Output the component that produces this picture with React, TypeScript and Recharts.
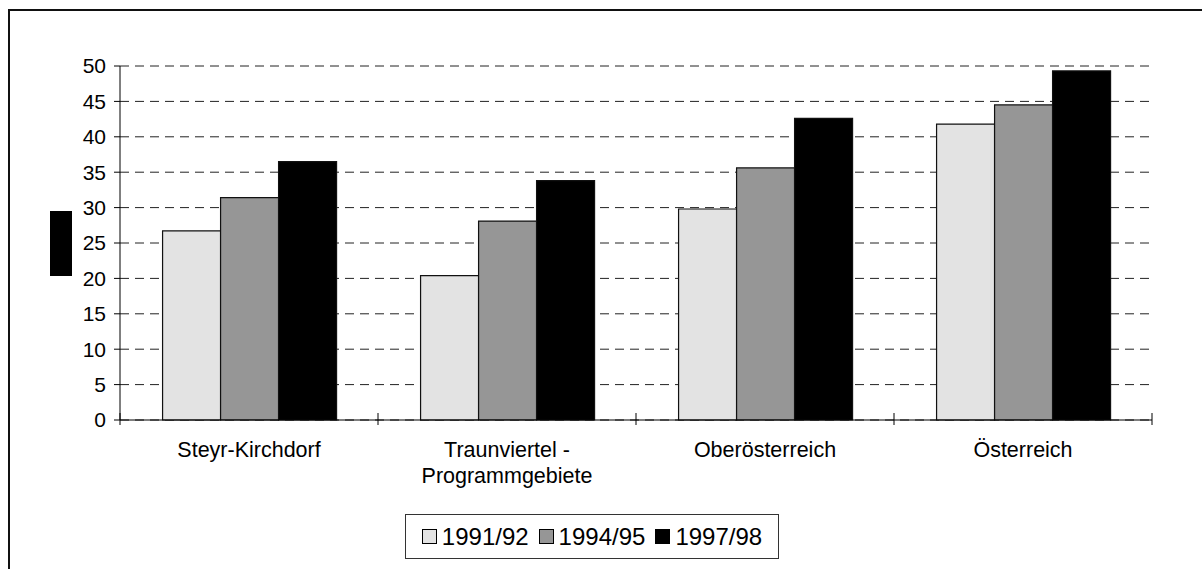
import { BarChart, Bar, XAxis, YAxis, CartesianGrid } from 'recharts'

// Regions and survey periods
const categories = ['Steyr-Kirchdorf', 'Traunviertel -\nProgrammgebiete', 'Oberösterreich', 'Österreich']
const periods = ['1991/92', '1994/95', '1997/98']
const periodColors = ['#e3e3e3', '#969696', '#000000']

// Values per period, one entry per region
const values9192 = [26.7, 20.4, 29.8, 41.8]
const values9495 = [31.4, 28.1, 35.6, 44.5]
const values9798 = [36.5, 33.8, 42.6, 49.3]

const yTicks = [0, 5, 10, 15, 20, 25, 30, 35, 40, 45, 50]

const data = categories.map((name, i) => ({
  name,
  p1: values9192[i],
  p2: values9495[i],
  p3: values9798[i],
}))
const seriesKeys = ['p1', 'p2', 'p3']

const FONT = '"Liberation Sans", Arial, sans-serif'
const TICK_SIZE = 6

// Category label with line breaks, plus the crossing tick marks at band edges
const CategoryTick = (props: any) => {
  const { x, y, payload, index, visibleTicksCount } = props
  const half = payload.offset ?? 0
  const axisY = y - TICK_SIZE
  const lines = String(payload.value).split('\n')
  const last = index === (visibleTicksCount ?? categories.length) - 1
  return (
    <g>
      <line x1={x - half} x2={x - half} y1={axisY - 7} y2={axisY + 5} stroke="#000" />
      {last && <line x1={x + half} x2={x + half} y1={axisY - 7} y2={axisY + 5} stroke="#000" />}
      <text x={x} y={y + 31} textAnchor="middle" fill="#000" fontSize={21.5} fontFamily={FONT}>
        {lines.map((l, i) => (
          <tspan key={i} x={x} dy={i === 0 ? 0 : 26}>
            {l}
          </tspan>
        ))}
      </text>
    </g>
  )
}

function LegendBox() {
  return (
    <div
      style={{
        position: 'absolute',
        left: 405,
        top: 514,
        width: 372,
        height: 43,
        border: '1px solid #333',
        background: '#fff',
        display: 'flex',
        alignItems: 'center',
        justifyContent: 'center',
        fontFamily: FONT,
        fontSize: 24,
        color: '#000',
      }}
    >
      {periods.map((p, i) => (
        <div key={p} style={{ display: 'flex', alignItems: 'center', marginRight: i < periods.length - 1 ? 10 : 0 }}>
          <span
            style={{
              display: 'inline-block',
              width: 13,
              height: 13,
              background: periodColors[i],
              border: '1px solid #000',
              marginRight: 5,
            }}
          />
          <span>{p}</span>
        </div>
      ))}
    </div>
  )
}

export default function App() {
  return (
    <div style={{ position: 'absolute', left: 0, top: 0, width: 1202, height: 569, overflow: 'hidden', background: '#fff' }}>
      {/* outer frame, open to the right and bottom */}
      <div
        style={{
          position: 'absolute',
          left: 8,
          top: 9,
          width: 1300,
          height: 700,
          borderLeft: '2px solid #111',
          borderTop: '2px solid #111',
        }}
      />
      {/* axis title block */}
      <div style={{ position: 'absolute', left: 50, top: 211, width: 22, height: 65, background: '#000' }} />
      <div style={{ position: 'absolute', left: 0, top: 0 }}>
        <BarChart
          width={1202}
          height={569}
          data={data}
          margin={{ top: 66, right: 50, left: 0, bottom: 0 }}
          barCategoryGap="16.5%"
          barGap={0}
        >
          <CartesianGrid vertical={false} stroke="#222" strokeDasharray="9 6" />
          <XAxis
            dataKey="name"
            height={149}
            axisLine={{ stroke: '#000' }}
            tickLine={false}
            tickSize={TICK_SIZE}
            tickMargin={0}
            interval={0}
            tick={<CategoryTick />}
          />
          <YAxis
            width={120}
            domain={[0, 50]}
            ticks={yTicks}
            interval={0}
            axisLine={{ stroke: '#000' }}
            tickLine={{ stroke: '#000' }}
            tickSize={TICK_SIZE}
            tickMargin={8}
            tick={{ fill: '#000', fontSize: 21, fontFamily: FONT }}
          />
          {seriesKeys.map((k, i) => (
            <Bar key={k} dataKey={k} name={periods[i]} fill={periodColors[i]} stroke="#111" strokeWidth={1.2} isAnimationActive={false} />
          ))}
        </BarChart>
      </div>
      <LegendBox />
    </div>
  )
}
